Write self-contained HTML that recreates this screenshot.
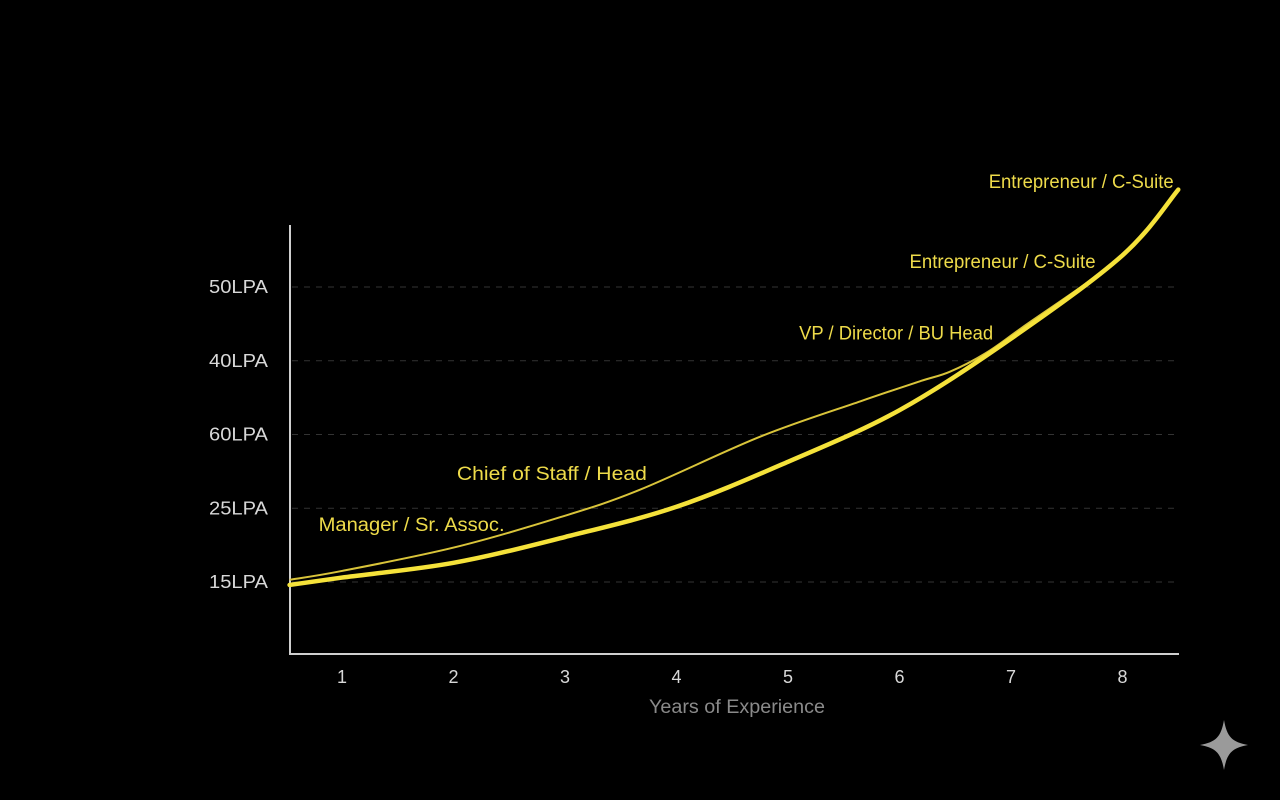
<!DOCTYPE html>
<html><head><meta charset="utf-8"><style>
html,body{margin:0;padding:0;background:#000;width:1280px;height:800px;overflow:hidden}
svg text{font-family:"Liberation Sans",sans-serif}
</style></head><body>
<svg id="chart" width="1280" height="800" viewBox="0 0 1280 800" xmlns="http://www.w3.org/2000/svg">
<rect width="1280" height="800" fill="#000"/>
<g id="grid"></g>
<line x1="290" y1="225" x2="290" y2="654" stroke="#cfcfcf" stroke-width="2"/>
<line x1="289" y1="654" x2="1179" y2="654" stroke="#cfcfcf" stroke-width="2"/>
<g id="ticks"></g>
<g id="series"></g>
<g id="labels"></g>
<text x="649" y="713" textLength="176" lengthAdjust="spacingAndGlyphs" font-size="19" fill="#8a8a8a">Years of Experience</text>
<path d="M1224,720 C1227,737 1232,742 1248,745 C1232,748 1227,753 1224,770 C1221,753 1216,748 1200,745 C1216,742 1221,737 1224,720 Z" fill="#9a9a9a"/>
</svg>
<script>
const yTickLabels=["15LPA","25LPA","60LPA","40LPA","50LPA"];
const yTickLevels=[0,1,2,3,4];
const xTicks=[1,2,3,4,5,6,7,8];
const mainX=[0.53,1,2,3,4,5,6,7,8,8.5];
const mainY=[-0.04,0.06,0.26,0.61,1.02,1.63,2.33,3.30,4.43,5.32];
const altX=[0.53,1,2.01,2.96,3.67,4.75,5.65,6.18,6.45,6.77,7.1,8,8.5];
const altY=[0.03,0.15,0.47,0.88,1.25,1.97,2.45,2.72,2.85,3.1,3.45,4.43,5.32];
const annTexts=["Entrepreneur / C-Suite","Entrepreneur / C-Suite","VP / Director / BU Head","Chief of Staff / Head","Manager / Sr. Assoc."];
const annX=[6.80,6.09,5.10,2.03,0.79];
const annY=[5.34,4.26,3.29,1.38,0.69];
const annW=[185,186,194,190,186];
const xs=v=>342+(v-1)*111.5;
const ys=v=>582-v*73.75;
const NS="http://www.w3.org/2000/svg";
function mk(tag,attrs,parent){const e=document.createElementNS(NS,tag);for(const k in attrs)e.setAttribute(k,attrs[k]);document.getElementById(parent).appendChild(e);return e;}
yTickLevels.forEach((l,i)=>{
 const g=mk('line',{x1:292,x2:1178,y1:ys(l),y2:ys(l),stroke:'#333','stroke-dasharray':'6 6','stroke-width':1},'grid');
 
 
 const t=mk('text',{x:268,y:ys(l)+6,'text-anchor':'end','font-size':18,fill:'#d8d8d8',textLength:59,lengthAdjust:'spacingAndGlyphs'},'ticks');
 t.textContent=yTickLabels[i];
 
 
});
xTicks.forEach(v=>{
 const t=mk('text',{x:xs(v),y:683,'text-anchor':'middle','font-size':18,fill:'#d8d8d8'},'ticks');
 t.textContent=v;
 
 
});
function smooth(X,Y){
 const p=X.map((x,i)=>[xs(x),ys(Y[i])]);
 let d=`M${p[0][0]},${p[0][1]}`;
 for(let i=0;i<p.length-1;i++){
  const p0=p[i-1]||p[i],p1=p[i],p2=p[i+1],p3=p[i+2]||p2;
  const c1=[p1[0]+(p2[0]-p0[0])/6,p1[1]+(p2[1]-p0[1])/6];
  const c2=[p2[0]-(p3[0]-p1[0])/6,p2[1]-(p3[1]-p1[1])/6];
  d+=` C${c1[0]},${c1[1]} ${c2[0]},${c2[1]} ${p2[0]},${p2[1]}`;
 }
 return d;
}
const a=mk('path',{d:smooth(altX,altY),fill:'none',stroke:'#d9c43a','stroke-width':2},'series');


const m=mk('path',{d:smooth(mainX,mainY),fill:'none',stroke:'#f5e23a','stroke-width':4.5,'stroke-linecap':'round'},'series');


annTexts.forEach((s,i)=>{
 const t=mk('text',{x:xs(annX[i]),y:ys(annY[i]),'font-size':19,fill:'#eedb4a',textLength:annW[i],lengthAdjust:'spacingAndGlyphs'},'labels');
 t.textContent=s;
 
 
});
</script>
</body></html>
